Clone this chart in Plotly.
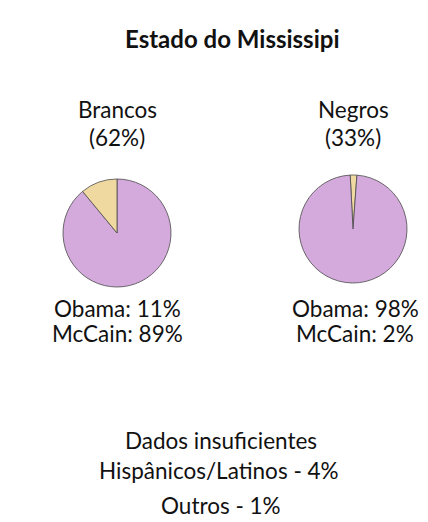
import plotly.graph_objects as go

# page body has an 8px margin, so the figure is drawn at (8, 8)
OFF = 8
W, H = 428 - OFF, 522 - OFF

title = "Estado do Mississipi"
groups = ["Brancos", "Negros"]
group_shares = ["(62%)", "(33%)"]
candidates = ["Obama", "McCain"]
obama = [11, 98]
mccain = [89, 2]
footer = ["Dados insuficientes", "Hispânicos/Latinos - 4%", "Outros - 1%"]

PURPLE = "#D4AADC"
TAN = "#F0D9A0"
FONT = "Lato, 'Open Sans', sans-serif"

def px(x):
    return (x - OFF) / W

def py(y):
    return 1 - (y - OFF) / H

fig = go.Figure()

# Brancos: purple (McCain) clockwise from 12 o'clock, tan (Obama) ends at 12
fig.add_trace(go.Pie(
    values=[mccain[0], obama[0]],
    labels=["McCain", "Obama"],
    marker=dict(colors=[PURPLE, TAN], line=dict(color="#4a4a4a", width=0.8)),
    sort=False, direction="clockwise", rotation=0,
    textinfo="none", hoverinfo="label+percent", showlegend=False,
    domain=dict(x=[px(63), px(171)], y=[py(287), py(179)]),
))
# Negros: tan (McCain) small slice at 12 o'clock, purple (Obama) rest
fig.add_trace(go.Pie(
    values=[mccain[1], obama[1]],
    labels=["McCain", "Obama"],
    marker=dict(colors=[TAN, PURPLE], line=dict(color="#4a4a4a", width=0.8)),
    sort=False, direction="clockwise", rotation=-3,
    textinfo="none", hoverinfo="label+percent", showlegend=False,
    domain=dict(x=[px(299), px(407)], y=[py(283), py(175)]),
))

def ann(text, x, y, size=22.5, bold=False):
    fig.add_annotation(
        text=f"<b>{text}</b>" if bold else text,
        x=px(x), y=py(y), xref="paper", yref="paper",
        xanchor="center", yanchor="middle", showarrow=False,
        font=dict(family=FONT, size=size, color="#111111"),
    )

ann(title, 232, 38, size=24, bold=True)
cx = [117, 353]
for i in range(2):
    ann(groups[i], cx[i], 110)
    ann(group_shares[i], cx[i], 137)
    ann(f"{candidates[0]}: {obama[i]}%", cx[i] + (0 if i == 0 else 2), 308)
    ann(f"{candidates[1]}: {mccain[i]}%", cx[i] + (0 if i == 0 else 2), 333)
ann(footer[0], 221, 440)
ann(footer[1], 219, 470)
ann(footer[2], 221, 505)

fig.update_layout(
    width=W, height=H,
    margin=dict(l=0, r=0, t=0, b=0),
    paper_bgcolor="white", plot_bgcolor="white",
)

fig.write_html("out.html")
